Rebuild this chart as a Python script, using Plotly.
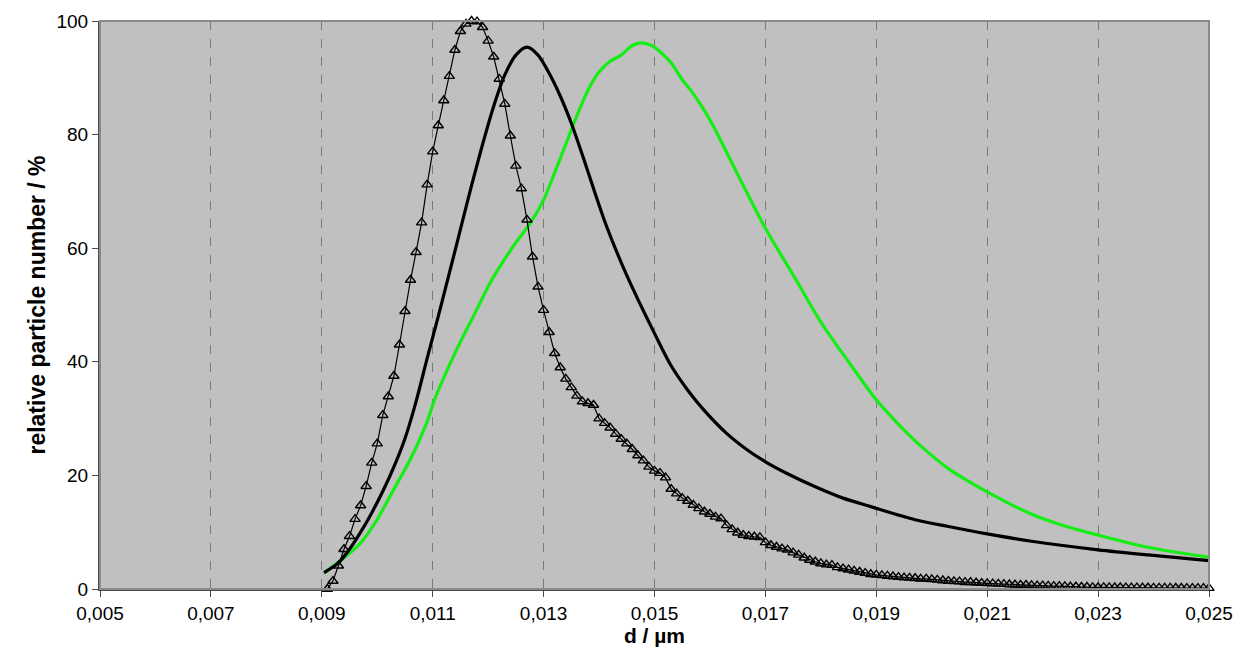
import numpy as np
import plotly.graph_objects as go

# Measured size channels (µm) for the marker series
d_start, d_step, n_channels = 0.0091, 0.0001, 160
d_markers = np.round(d_start + d_step * np.arange(n_channels), 5)

# Relative particle number (%) per channel - marker series
n_markers = [
    0.0, 1.4, 4.1, 7.0, 9.3, 12.3, 14.7, 18.1, 22.2, 25.6,
    30.6, 33.9, 37.5, 43.0, 48.9, 54.4, 59.3, 64.5, 71.2, 77.0,
    81.6, 86.0, 90.3, 94.9, 98.2, 99.5, 100.0, 99.9, 98.9, 96.5,
    93.7, 89.8, 85.4, 79.8, 74.5, 70.5, 65.0, 58.5, 53.2, 49.1,
    45.2, 41.5, 39.0, 37.0, 35.5, 34.0, 33.0, 32.7, 32.4, 30.0,
    29.2, 28.4, 27.3, 26.4, 25.6, 24.6, 23.5, 22.6, 21.5, 20.8,
    20.4, 19.6, 17.6, 16.8, 16.0, 15.5, 14.8, 14.2, 13.6, 13.2,
    12.7, 12.4, 11.2, 10.5, 9.9, 9.5, 9.3, 9.2, 9.1, 8.2,
    7.7, 7.4, 7.1, 6.9, 6.4, 6.0, 5.5, 5.1, 4.8, 4.5,
    4.3, 4.2, 3.8, 3.6, 3.4, 3.2, 3.0, 2.8, 2.6, 2.5,
    2.4, 2.3, 2.2, 2.1, 2.0, 1.95, 1.9, 1.8, 1.8, 1.7,
    1.6, 1.5, 1.4, 1.35, 1.3, 1.2, 1.2, 1.1, 1.05, 1.0,
    0.95, 0.9, 0.85, 0.8, 0.75, 0.7, 0.7, 0.65, 0.6, 0.6,
    0.55, 0.5, 0.5, 0.45, 0.4, 0.4, 0.35, 0.35, 0.3, 0.3,
    0.3, 0.28, 0.27, 0.26, 0.25, 0.24, 0.23, 0.22, 0.22, 0.21,
    0.2, 0.2, 0.19, 0.18, 0.18, 0.17, 0.17, 0.16, 0.16, 0.15,
]

# Black distribution
d_black = [
    0.00904, 0.0093, 0.0095, 0.0097, 0.0099, 0.0101, 0.0103, 0.0105, 0.0107,
    0.0109, 0.0111, 0.0113, 0.0115, 0.0117, 0.0119, 0.0121, 0.0123, 0.0125,
    0.0127, 0.0129, 0.0131, 0.0133, 0.0135, 0.0137, 0.0139, 0.0141, 0.0143,
    0.0145, 0.0147, 0.0150, 0.0153, 0.0156, 0.0159, 0.0163, 0.0167, 0.0170,
    0.0174, 0.0179, 0.0184, 0.0189, 0.0197, 0.0203, 0.0210, 0.0218, 0.0230,
    0.0239, 0.0250,
]
n_black = [
    2.9, 4.6, 7.0, 10.0, 13.4, 17.2, 21.5, 26.5, 33.0,
    40.6, 48.0, 55.6, 63.3, 71.0, 78.3, 85.0, 90.5, 94.0,
    95.4, 94.0, 90.8, 86.8, 82.0, 76.4, 70.5, 64.8, 59.8,
    55.2, 51.0, 45.0, 39.3, 35.0, 31.4, 27.4, 24.3, 22.4,
    20.3, 18.0, 16.0, 14.5, 12.2, 11.0, 9.7, 8.4, 6.9,
    6.0, 5.0,
]

# Green distribution
d_green = [
    0.00904, 0.00969, 0.00999, 0.01029, 0.01059, 0.01089, 0.01104, 0.01143,
    0.01179, 0.01203, 0.01245, 0.01276, 0.0130, 0.0132, 0.0134, 0.0136, 0.0138,
    0.0140, 0.0142, 0.0144, 0.01456, 0.01471, 0.01492, 0.0151, 0.01531, 0.01549,
    0.01567, 0.0160, 0.0165, 0.0170, 0.0175, 0.0180, 0.0185, 0.0190, 0.0194,
    0.0198, 0.0203, 0.0210, 0.02177, 0.02243, 0.0230, 0.02387, 0.0250,
]
n_green = [
    2.8, 8.0, 12.1, 17.4, 22.7, 29.2, 33.5, 42.1,
    49.1, 53.8, 60.3, 64.4, 68.5, 73.3, 78.3, 83.3, 87.8,
    91.0, 92.9, 94.0, 95.4, 96.1, 95.8, 94.6, 92.5, 89.8,
    87.6, 82.6, 73.0, 63.5, 55.3, 47.0, 40.0, 33.3, 29.0,
    25.2, 21.2, 17.1, 13.3, 11.0, 9.5, 7.4, 5.6,
]

x_ticks = [0.005, 0.007, 0.009, 0.011, 0.013, 0.015, 0.017, 0.019, 0.021, 0.023, 0.025]
x_tick_text = ["0,005", "0,007", "0,009", "0,011", "0,013", "0,015",
               "0,017", "0,019", "0,021", "0,023", "0,025"]
y_ticks = [0, 20, 40, 60, 80, 100]

FONT = "Liberation Sans, Arial, sans-serif"

fig = go.Figure()
fig.add_trace(go.Scatter(
    x=d_green, y=n_green, mode="lines",
    line=dict(color="#14EE14", width=3.2, shape="spline", smoothing=0.8),
    showlegend=False, cliponaxis=False,
))
fig.add_trace(go.Scatter(
    x=d_black, y=n_black, mode="lines",
    line=dict(color="#000000", width=3.2, shape="spline", smoothing=0.8),
    showlegend=False, cliponaxis=False,
))
fig.add_trace(go.Scatter(
    x=d_markers, y=n_markers, mode="lines+markers",
    line=dict(color="#000000", width=1.2),
    marker=dict(symbol="triangle-up-open", size=9, color="#000000",
                line=dict(width=1.4, color="#000000")),
    showlegend=False, cliponaxis=False,
))

# Light frame on the top and right edges of the plotting area
fig.add_shape(type="rect", xref="paper", yref="paper", x0=0, y0=0, x1=1, y1=1,
              line=dict(color="#8a8a8a", width=2), layer="above")

fig.update_layout(
    width=1236, height=659,
    margin=dict(l=100, r=27, t=21, b=70),
    paper_bgcolor="#ffffff",
    plot_bgcolor="#c0c0c0",
    font=dict(family=FONT, size=19, color="#000000"),
    xaxis=dict(
        range=[0.005, 0.025], tickvals=x_ticks, ticktext=x_tick_text,
        automargin=False,
        showgrid=True, gridcolor="#7a7a7a", griddash="dash", gridwidth=1,
        zeroline=False, showline=True, linecolor="#4a4a4a", linewidth=2,
        ticks="outside", ticklen=6, tickcolor="#4a4a4a", tickwidth=1,
        tickfont=dict(size=19),
        title=dict(text="<b>d / µm</b>", font=dict(size=21), standoff=4),
    ),
    yaxis=dict(
        range=[0, 100], tickvals=y_ticks, automargin=False,
        showgrid=False, zeroline=False, showline=True, linecolor="#4a4a4a", linewidth=2,
        ticks="outside", ticklen=6, tickcolor="#4a4a4a", tickwidth=1,
        tickfont=dict(size=19),
        title=dict(text="<b>relative particle number / %</b>", font=dict(size=23), standoff=4),
    ),
)

fig.write_html("out.html")
